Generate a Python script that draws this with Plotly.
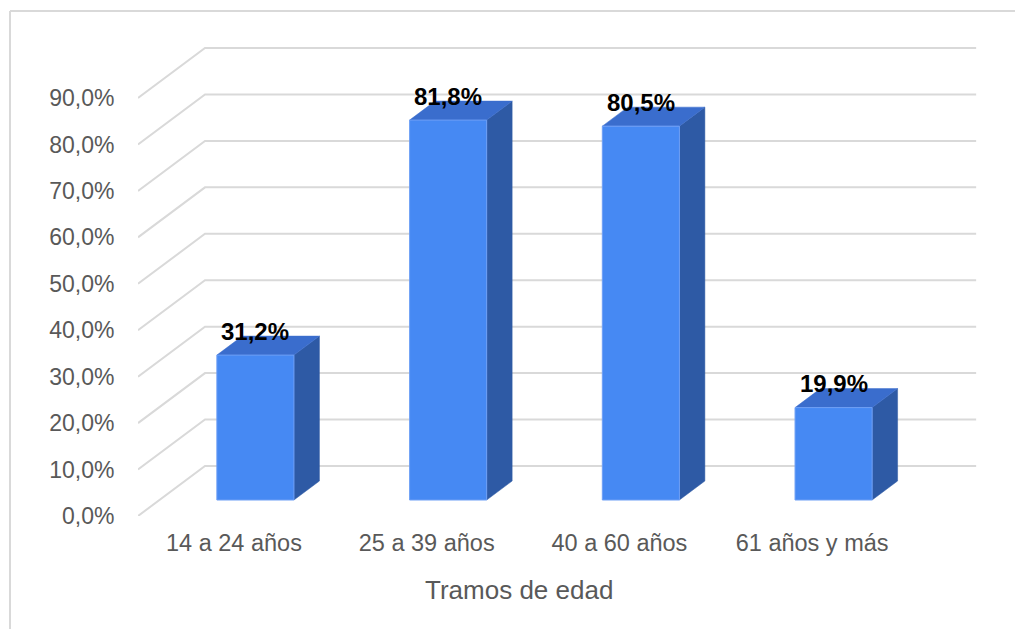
import plotly.graph_objects as go

# ---- data ----
categories = ["14 a 24 años", "25 a 39 años", "40 a 60 años", "61 años y más"]
values = [31.2, 81.8, 80.5, 19.9]
y_ticks = [0, 10, 20, 30, 40, 50, 60, 70, 80, 90]
y_ticktext = ["0,0%", "10,0%", "20,0%", "30,0%", "40,0%", "50,0%", "60,0%", "70,0%", "80,0%", "90,0%"]
x_title = "Tramos de edad"

# ---- styling / projection constants ----
FONT = "Arial, Liberation Sans, sans-serif"
GRID = "#d9d9d9"
TXT = "#595959"
C_FRONT = "#4689f3"
C_TOP = "#3a6dcd"
C_SIDE = "#2e5aa5"
DX = 0.3477        # depth offset (x units) for full wall depth
DY = 10.766        # depth offset (y units) for full wall depth
Z_FRONT = 0.32     # bar front depth fraction
Z_BACK = 0.70      # bar back depth fraction
BAR_W = 0.40
X_RANGE = [-0.498, 3.871]
Y_RANGE = [0, 102.49]
X_GRID_END = 3.851

fig = go.Figure()

# gridlines (oblique wall)
for v in y_ticks:
    fig.add_trace(go.Scatter(
        x=[X_RANGE[0], X_RANGE[0] + DX, X_GRID_END],
        y=[v, v + DY, v + DY],
        mode="lines", line=dict(color=GRID, width=2),
        hoverinfo="skip", showlegend=False, cliponaxis=False))

# 3D bars
b = Z_FRONT * DY
ddx = (Z_BACK - Z_FRONT) * DX
ddy = (Z_BACK - Z_FRONT) * DY
for i, v in enumerate(values):
    cx = i + Z_FRONT * DX
    xl, xr = cx - BAR_W / 2, cx + BAR_W / 2
    top = b + v
    # side face
    fig.add_trace(go.Scatter(
        x=[xr, xr + ddx, xr + ddx, xr, xr],
        y=[b, b + ddy, top + ddy, top, b],
        fill="toself", fillcolor=C_SIDE, mode="lines",
        line=dict(color=C_SIDE, width=0.5), hoverinfo="skip", showlegend=False))
    # top face
    fig.add_trace(go.Scatter(
        x=[xl, xr, xr + ddx, xl + ddx, xl],
        y=[top, top, top + ddy, top + ddy, top],
        fill="toself", fillcolor=C_TOP, mode="lines",
        line=dict(color=C_TOP, width=0.5), hoverinfo="skip", showlegend=False))
    # front face
    fig.add_trace(go.Scatter(
        x=[xl, xr, xr, xl, xl],
        y=[b, b, top, top, b],
        fill="toself", fillcolor=C_FRONT, mode="lines",
        line=dict(color="#6e9ff5", width=1), hoverinfo="skip", showlegend=False))
    fig.add_annotation(
        x=cx, y=top, xref="x", yref="y", yshift=24, showarrow=False,
        text="<b>" + f"{v:.1f}".replace(".", ",") + "%</b>",
        font=dict(family=FONT, size=24, color="#000000"))

# axis title
fig.add_annotation(
    x=0.4525, y=-0.1555, xref="paper", yref="paper", showarrow=False,
    xanchor="center", yanchor="middle", text=x_title,
    font=dict(family=FONT, size=26, color=TXT))

# outer chart border (top and left edges visible)
fig.add_shape(type="line", xref="paper", yref="paper",
              x0=-0.152, x1=-0.152, y0=-0.3, y1=1.0609,
              line=dict(color=GRID, width=2))
fig.add_shape(type="line", xref="paper", yref="paper",
              x0=-0.152, x1=1.1, y0=1.0609, y1=1.0609,
              line=dict(color=GRID, width=2))

fig.update_layout(
    width=1015, height=629,
    margin=dict(l=138, r=35, t=40, b=113),
    paper_bgcolor="white", plot_bgcolor="white",
    showlegend=False,
    font=dict(family=FONT, color=TXT),
    xaxis=dict(range=X_RANGE, tickvals=[0, 1, 2, 3], ticktext=categories,
               showgrid=False, zeroline=False, showline=False,
               ticks="outside", ticklen=6, tickcolor="rgba(0,0,0,0)",
               tickfont=dict(family=FONT, size=23.5, color=TXT), fixedrange=True),
    yaxis=dict(range=Y_RANGE, tickvals=y_ticks, ticktext=y_ticktext,
               showgrid=False, zeroline=False, showline=False,
               ticks="outside", ticklen=18, tickcolor="rgba(0,0,0,0)",
               tickfont=dict(family=FONT, size=23, color=TXT), fixedrange=True),
)

fig.write_html("out.html")
